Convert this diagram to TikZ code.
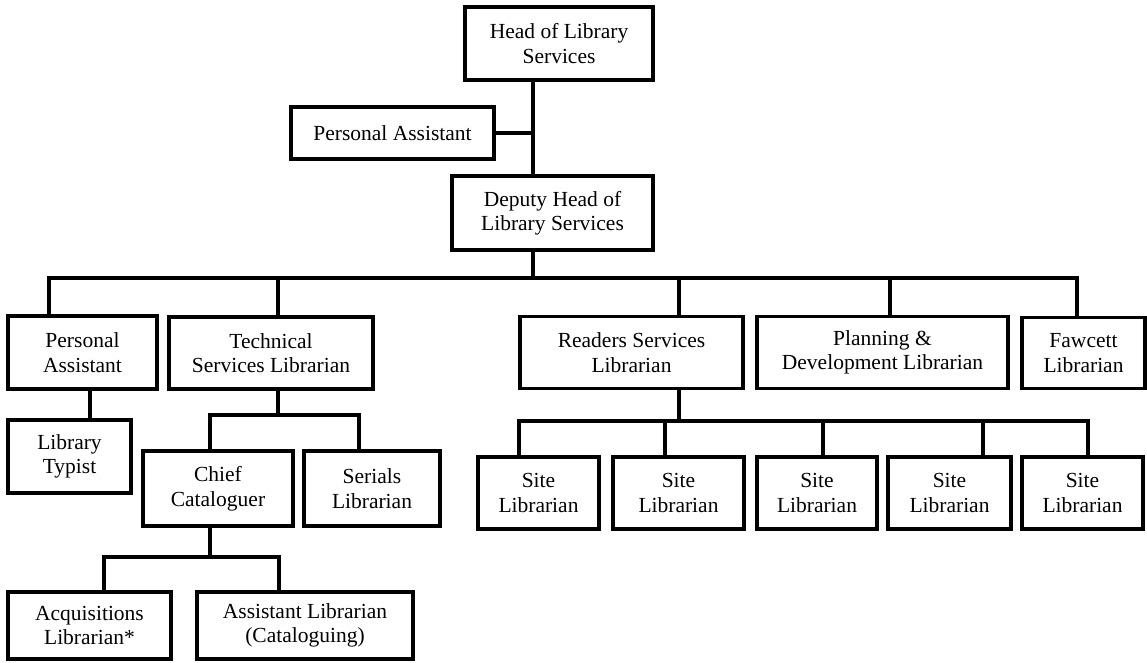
\documentclass[tikz,border=0pt]{standalone}
\usepackage{fontspec}
\setmainfont{Liberation Serif}
\begin{document}
\begin{tikzpicture}[x=1pt,y=-1pt,
  post/.style={draw, line width=3.2pt, rectangle, inner sep=0pt, align=center,
    font=\fontsize{21.5}{24.5}\selectfont},
  link/.style={line width=3.2pt, line cap=rect, line join=miter}]
\useasboundingbox (0,0) rectangle (1147,662);

% top of the chart
\node[post, minimum width=188pt, minimum height=73pt] (head) at (559,43.5) {Head of Library\\Services};
\node[post, minimum width=203pt, minimum height=52pt] (pa1) at (392.5,133) {Personal Assistant};
\node[post, minimum width=201pt, minimum height=74pt] (deputy) at (552.5,213) {Deputy Head of\\Library Services};

% second level
\node[post, minimum width=149pt, minimum height=73pt] (pa2) at (82.5,352.5) {Personal\\Assistant};
\node[post, minimum width=204pt, minimum height=72pt] (tech) at (271,353) {Technical\\Services Librarian};
\node[post, minimum width=223pt, minimum height=72pt] (readers) at (631.5,352.5) {Readers Services\\Librarian};
\node[post, minimum width=251pt, minimum height=72pt] (planning) at (882.5,352.5) {Planning \&\\Development Librarian};
\node[post, minimum width=123pt, minimum height=71pt] (fawcett) at (1083.5,353) {Fawcett\\Librarian};

% below the personal assistant and technical services
\node[post, minimum width=123pt, minimum height=73pt] (typist) at (69.5,456.5) {Library\\Typist};
\node[post, minimum width=150pt, minimum height=75pt] (chief) at (218,488.5) {Chief\\Cataloguer};
\node[post, minimum width=136pt, minimum height=75pt] (serials) at (372,488.5) {Serials\\Librarian};
\node[post, minimum width=163pt, minimum height=67pt] (acq) at (89.5,625.5) {Acquisitions\\Librarian*};
\node[post, minimum width=216pt, minimum height=67pt] (asst) at (305,625.5) {Assistant Librarian\\(Cataloguing)};

% site librarians
\node[post, minimum width=121pt, minimum height=72pt] (s1) at (538.5,493) {Site\\Librarian};
\node[post, minimum width=131pt, minimum height=72pt] (s2) at (678.5,493) {Site\\Librarian};
\node[post, minimum width=120pt, minimum height=72pt] (s3) at (817,493) {Site\\Librarian};
\node[post, minimum width=123pt, minimum height=72pt] (s4) at (949.5,493) {Site\\Librarian};
\node[post, minimum width=121pt, minimum height=72pt] (s5) at (1082.5,493) {Site\\Librarian};

% junction points of the connector lines
\coordinate (sp) at (533,278);
\coordinate (b1) at (49,278);
\coordinate (b2) at (278,278);
\coordinate (b3) at (679,278);
\coordinate (b4) at (890,278);
\coordinate (b5) at (1077,278);
\coordinate (pd) at (90,420);
\coordinate (t0) at (278,415);
\coordinate (t1) at (210,415);
\coordinate (t2) at (359,415);
\coordinate (c0) at (210,557);
\coordinate (c1) at (104,557);
\coordinate (c2) at (279,557);
\coordinate (r0) at (679,421);
\coordinate (r1) at (519,421);
\coordinate (r2) at (665,421);
\coordinate (r3) at (823,421);
\coordinate (r4) at (983,421);
\coordinate (r5) at (1088,421);

% head, assistant and deputy
\draw[link] (head.south -| sp) -- (deputy.north -| sp);
\draw[link] (pa1.east) -- (pa1.east -| sp);
\draw[link] (deputy.south -| sp) -- (sp);

% main bus
\draw[link] (pa2.north -| b1) -- (b1) -- (b5) -- (fawcett.north -| b5);
\draw[link] (b2) -- (tech.north -| b2);
\draw[link] (b3) -- (readers.north -| b3);
\draw[link] (b4) -- (planning.north -| b4);

% personal assistant to typist
\draw[link] (pa2.south -| pd) -- (typist.north -| pd);

% technical services branch
\draw[link] (tech.south -| t0) -- (t0);
\draw[link] (chief.north -| t1) -- (t1) -- (t2) -- (serials.north -| t2);
\draw[link] (chief.south -| c0) -- (c0);
\draw[link] (acq.north -| c1) -- (c1) -- (c2) -- (asst.north -| c2);

% readers services branch
\draw[link] (readers.south -| r0) -- (r0);
\draw[link] (s1.north -| r1) -- (r1) -- (r5) -- (s5.north -| r5);
\draw[link] (r2) -- (s2.north -| r2);
\draw[link] (r3) -- (s3.north -| r3);
\draw[link] (r4) -- (s4.north -| r4);
\end{tikzpicture}
\end{document}
